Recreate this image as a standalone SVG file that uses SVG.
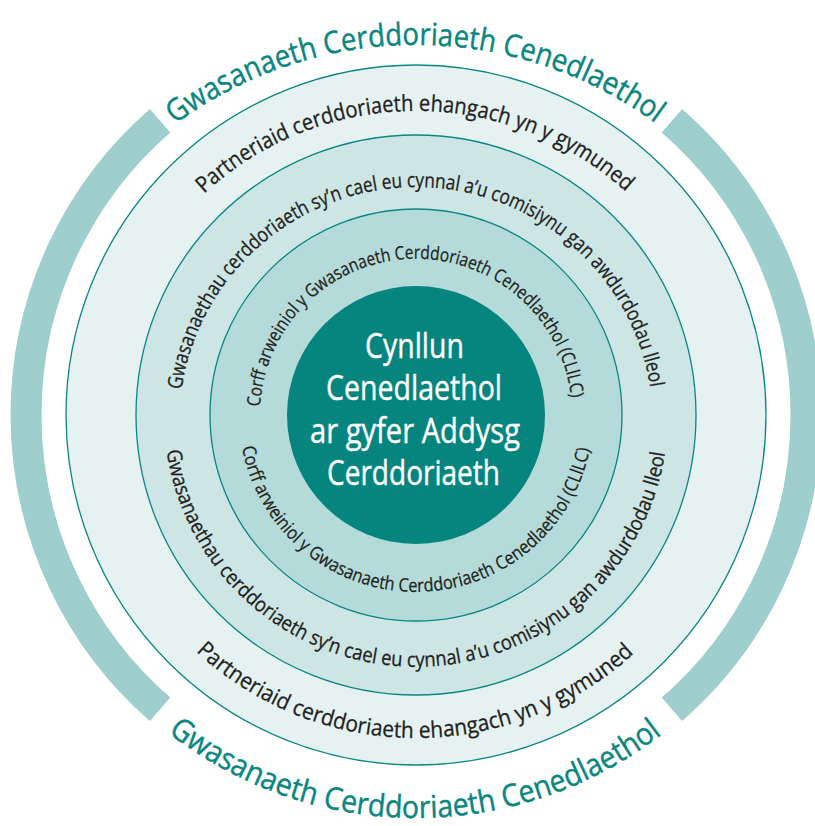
<svg xmlns="http://www.w3.org/2000/svg" width="815" height="826" viewBox="0 0 815 826">
<style>
.ring{stroke:#0b8680;stroke-width:1.3}
.band{fill:none;stroke:#9ecfcd;stroke-width:31}
.t{font-family:"Open Sans","Liberation Sans",sans-serif}
.teal{fill:#0b8680;stroke:#0b8680;stroke-width:0.45;font-size:31px}
.l1{fill:#231f20;stroke:#231f20;stroke-width:0.3;font-size:22.5px}
.l2{fill:#231f20;stroke:#231f20;stroke-width:0.3;font-size:20.5px}
.l3{fill:#231f20;stroke:#231f20;stroke-width:0.25;font-size:18.5px}
.ctr{fill:#ffffff;stroke:#ffffff;stroke-width:0.4;font-size:35px}
</style>
<defs>
<path id="p0t" d="M175.1,124.4 A405,405 0 0 1 656.9,124.4"/>
<path id="p0b" d="M167.9,732.6 A403,403 0 0 0 664.1,732.6"/>
<path id="p1t" d="M204,193.8 A312.5,312.5 0 0 1 628,193.8"/>
<path id="p1b" d="M196.1,651.6 A323,323 0 0 0 635.9,651.6"/>
<path id="p2t" d="M181.5,389.8 A237,237 0 0 1 650.5,389.8"/>
<path id="p2b" d="M166.6,450.9 A252,252 0 0 0 665.4,450.9"/>
<path id="p3t" d="M260.2,406.8 A156,156 0 0 1 571.3,400.1"/>
<path id="p3b" d="M242,447.3 A177,177 0 0 0 590.1,447"/>
</defs>
<rect width="815" height="826" fill="#ffffff"/>
<g id="national-service">
<path class="band" d="M160.1,709.3 A390,390 0 0 1 160.1,120.7"/>
<path class="band" d="M671.9,120.7 A390,390 0 0 1 671.9,709.3"/>
<text class="t teal"><textPath href="#p0t" textLength="514" lengthAdjust="spacingAndGlyphs">Gwasanaeth Cerddoriaeth Cenedlaethol</textPath></text>
<text class="t teal"><textPath href="#p0b" textLength="532" lengthAdjust="spacingAndGlyphs">Gwasanaeth Cerddoriaeth Cenedlaethol</textPath></text>
</g>
<g id="partners">
<circle class="ring" cx="416" cy="415" r="350" fill="#e5f2f1"/>
<text class="t l1"><textPath href="#p1t" textLength="463" lengthAdjust="spacingAndGlyphs">Partneriaid cerddoriaeth ehangach yn y gymuned</textPath></text>
<text class="t l1"><textPath href="#p1b" textLength="481" lengthAdjust="spacingAndGlyphs">Partneriaid cerddoriaeth ehangach yn y gymuned</textPath></text>
</g>
<g id="local-services">
<circle class="ring" cx="416" cy="415" r="280" fill="#cde6e5"/>
<text class="t l2"><textPath href="#p2t" textLength="673" lengthAdjust="spacingAndGlyphs">Gwasanaethau cerddoriaeth sy’n cael eu cynnal a’u comisiynu gan awdurdodau lleol</textPath></text>
<text class="t l2"><textPath href="#p2b" textLength="717" lengthAdjust="spacingAndGlyphs">Gwasanaethau cerddoriaeth sy’n cael eu cynnal a’u comisiynu gan awdurdodau lleol</textPath></text>
</g>
<g id="lead-body">
<circle class="ring" cx="416" cy="415" r="206" fill="#b4dbd9"/>
<text class="t l3"><textPath href="#p3t" textLength="465" lengthAdjust="spacingAndGlyphs">Corff arweiniol y Gwasanaeth Cerddoriaeth Cenedlaethol (CLlLC)</textPath></text>
<text class="t l3"><textPath href="#p3b" textLength="489" lengthAdjust="spacingAndGlyphs">Corff arweiniol y Gwasanaeth Cerddoriaeth Cenedlaethol (CLlLC)</textPath></text>
</g>
<g id="national-plan">
<circle cx="416" cy="415" r="129" fill="#06857f"/>
<text class="t ctr" x="365" y="358" textLength="99" lengthAdjust="spacingAndGlyphs">Cynllun</text>
<text class="t ctr" x="326" y="400" textLength="176" lengthAdjust="spacingAndGlyphs">Cenedlaethol</text>
<text class="t ctr" x="310" y="443" textLength="210" lengthAdjust="spacingAndGlyphs">ar gyfer Addysg</text>
<text class="t ctr" x="327" y="485" textLength="173" lengthAdjust="spacingAndGlyphs">Cerddoriaeth</text>
</g>
<g id="connectors"/>
</svg>
